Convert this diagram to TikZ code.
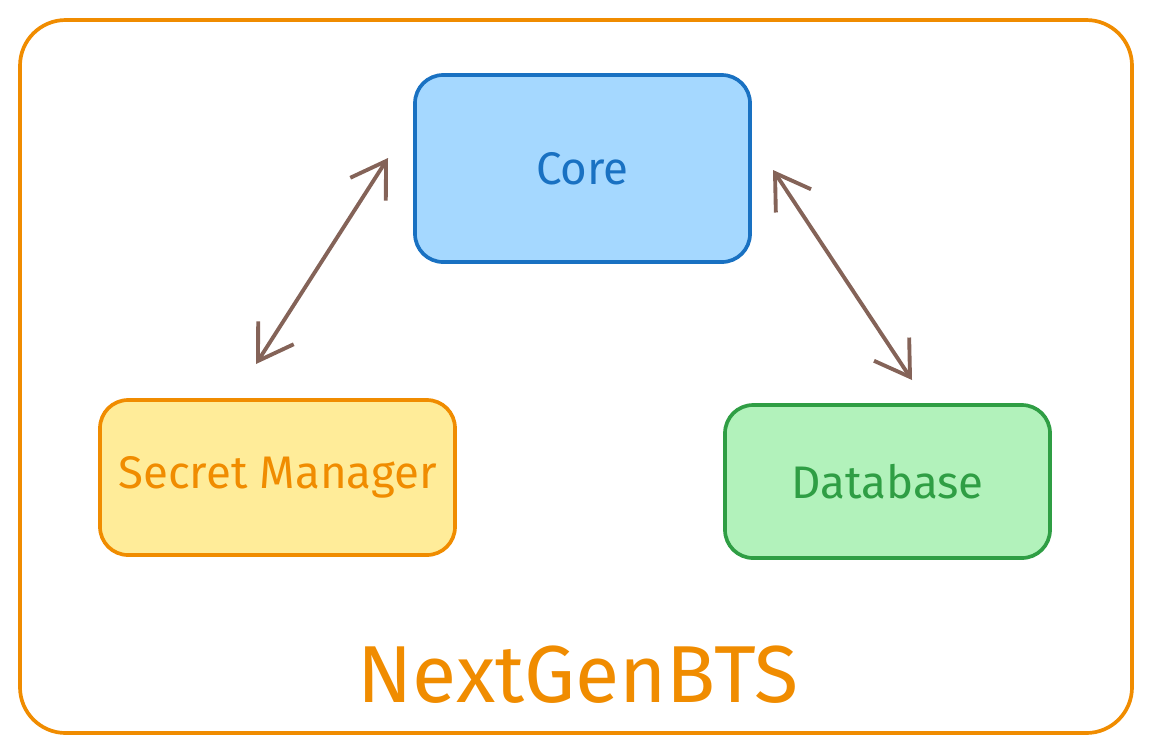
\documentclass[tikz,border=0pt]{standalone}
\usepackage{fontspec}
\setmainfont{Fira Sans}
\usetikzlibrary{arrows.meta}
\definecolor{orangeS}{HTML}{F08C00}
\definecolor{blueS}{HTML}{1971C2}
\definecolor{blueF}{HTML}{A5D8FF}
\definecolor{yellowF}{HTML}{FFEC99}
\definecolor{greenS}{HTML}{2F9E44}
\definecolor{greenF}{HTML}{B2F2BB}
\definecolor{brownS}{HTML}{846358}
\tikzset{
  box/.style={draw, line width=2.1pt, rounded corners=16pt, inner sep=0pt, font=\fontsize{26}{30}\selectfont},
  link/.style={draw=brownS, line width=2.2pt, line cap=round, {Straight Barb[length=19pt,width=24pt,line width=2.2pt]}-{Straight Barb[length=19pt,width=24pt,line width=2.2pt]}}
}
\begin{document}
\begin{tikzpicture}[x=0.02cm,y=-0.02cm]
\useasboundingbox (0,0) rectangle (1152,752);
\draw[orangeS, line width=2.1pt, rounded corners=26pt] (20,20) rectangle (1132,733);
\node[box, draw=blueS, fill=blueF, text=blueS, minimum width=335*0.02cm, minimum height=187*0.02cm] (core) at (582.5,168.5) {Core};
\node[box, draw=orangeS, fill=yellowF, text=orangeS, minimum width=355*0.02cm, minimum height=155*0.02cm] (secret) at (277.5,477.5) {Secret Manager};
\node[box, draw=greenS, fill=greenF, text=greenS, minimum width=325*0.02cm, minimum height=153*0.02cm] (db) at (887.5,481.5) {Database};
\coordinate (a1) at (388,158);
\coordinate (a2) at (256,364);
\coordinate (b1) at (773,170);
\coordinate (b2) at (912,380);
\draw[link] (a1) -- (a2);
\draw[link] (b1) -- (b2);
\node[text=orangeS, font=\fontsize{46}{52}\selectfont] (title) at (578,675) {NextGenBTS};
\end{tikzpicture}
\end{document}
